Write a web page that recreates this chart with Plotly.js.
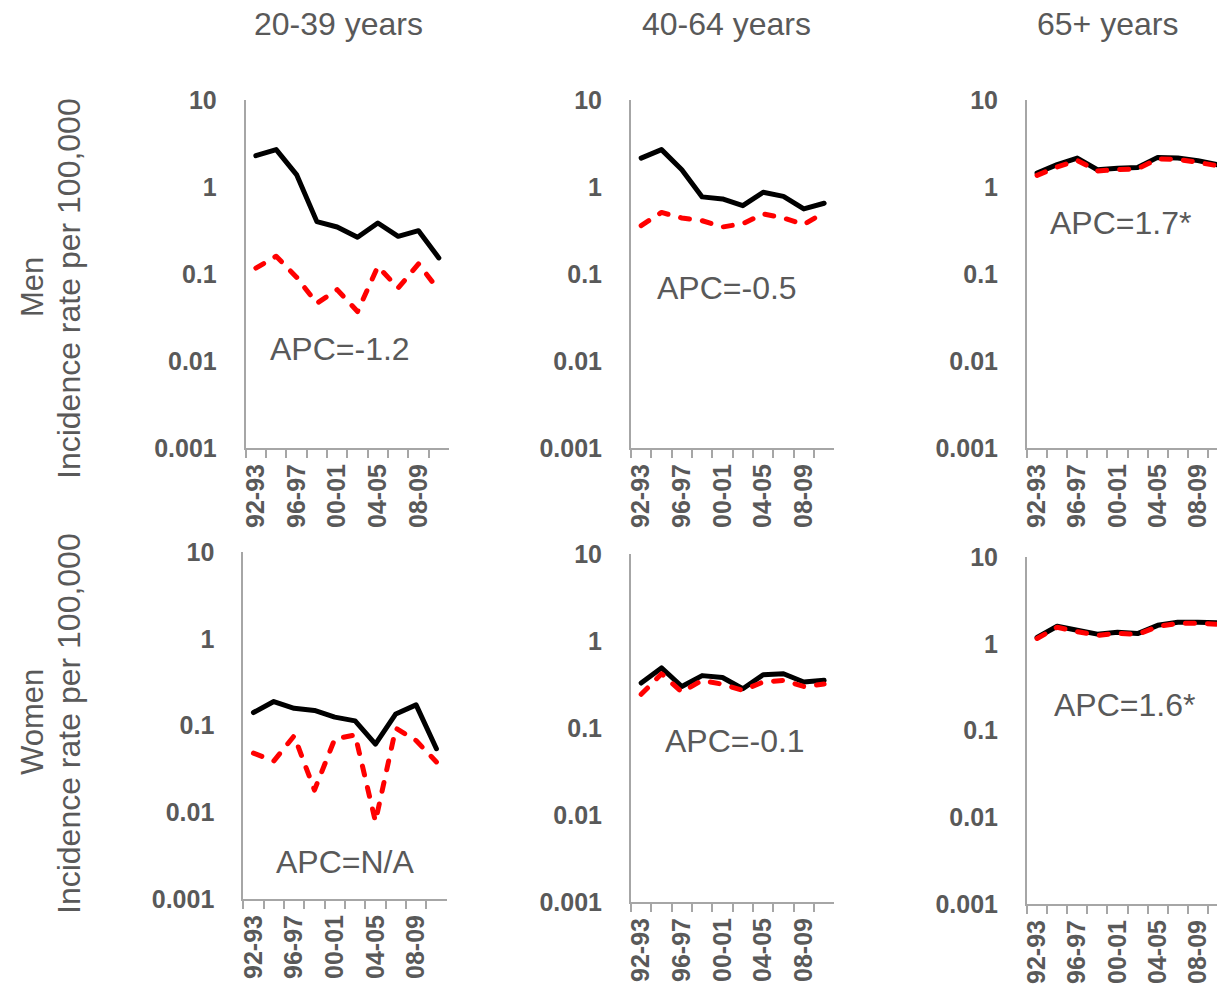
<!DOCTYPE html>
<html>
<head>
<meta charset="utf-8">
<script src="https://cdn.plot.ly/plotly-3.0.1.min.js"></script>
<style>
html,body{margin:0;padding:0;overflow:hidden;background:#fff;}
#chart{width:1217px;height:989px;}
#chart path.js-line{stroke-linecap:round;stroke-linejoin:round;}
</style>
</head>
<body>
<div id="chart"></div>
<script>
// ---- Data ----
const categories = ['92-93','94-95','96-97','98-99','00-01','02-03','04-05','06-07','08-09','10-11'];
const tickLabels = ['92-93','','96-97','','00-01','','04-05','','08-09',''];
const yTickVals = [0.001, 0.01, 0.1, 1, 10];
const yTickText = ['0.001', '0.01', '0.1', '1', '10'];

const ageGroups = ['20-39 years', '40-64 years', '65+ years'];
const sexes = ['Men', 'Women'];
const apcLabels = ['APC=-1.2', 'APC=-0.5', 'APC=1.7*', 'APC=N/A', 'APC=-0.1', 'APC=1.6*'];

const men20_39_solid   = [2.29, 2.69, 1.39, 0.40, 0.347, 0.264, 0.386, 0.271, 0.315, 0.153];
const men20_39_dashed  = [0.117, 0.160, 0.092, 0.046, 0.066, 0.037, 0.122, 0.069, 0.131, 0.065];
const men40_64_solid   = [2.15, 2.69, 1.58, 0.77, 0.73, 0.61, 0.87, 0.78, 0.56, 0.65];
const men40_64_dashed  = [0.36, 0.51, 0.44, 0.41, 0.347, 0.379, 0.49, 0.44, 0.37, 0.51];
const men65_solid      = [1.45, 1.81, 2.15, 1.58, 1.64, 1.68, 2.19, 2.15, 2.01, 1.80];
const men65_dashed     = [1.36, 1.70, 2.02, 1.53, 1.58, 1.62, 2.10, 2.08, 1.92, 1.75];
const women20_39_solid = [0.141, 0.189, 0.158, 0.149, 0.125, 0.113, 0.061, 0.136, 0.173, 0.054];
const women20_39_dashed= [0.048, 0.039, 0.076, 0.018, 0.070, 0.078, 0.0078, 0.093, 0.067, 0.038];
const women40_64_solid = [0.329, 0.49, 0.30, 0.40, 0.38, 0.283, 0.41, 0.42, 0.338, 0.353];
const women40_64_dashed= [0.244, 0.42, 0.259, 0.353, 0.318, 0.271, 0.338, 0.353, 0.30, 0.32];
const women65_solid    = [1.18, 1.59, 1.43, 1.29, 1.36, 1.31, 1.63, 1.77, 1.77, 1.75];
const women65_dashed   = [1.15, 1.55, 1.38, 1.25, 1.32, 1.28, 1.58, 1.72, 1.72, 1.68];

const solidSeries  = [men20_39_solid, men40_64_solid, men65_solid, women20_39_solid, women40_64_solid, women65_solid];
const dashedSeries = [men20_39_dashed, men40_64_dashed, men65_dashed, women20_39_dashed, women40_64_dashed, women65_dashed];

// ---- Layout geometry (pixels) ----
const W = 1217, H = 989;
const FONT = 'Liberation Sans, Arial, sans-serif';
const GREY = '#595959';
const AXIS = '#a6a6a6';
// panel boxes: [left, right, top, bottom, xRangeEnd]
const panels = [
  [245.7, 449.0, 100, 448, 9.5],
  [631.0, 834.3, 100, 448, 9.5],
  [1027.0, 1217, 100, 448, 8.95],
  [243.3, 446.6, 552, 899, 9.5],
  [631.0, 834.3, 554, 902, 9.5],
  [1027.0, 1217, 557, 904, 8.95]
];
const apcPos = [[340, 349], [727, 288], [1120, 223], [345, 862], [735, 741], [1124, 705]];

const px = v => v / W;
const py = v => 1 - v / H;

const traces = [];
const layout = {
  width: W, height: H,
  margin: {l: 0, r: 0, t: 0, b: 0},
  paper_bgcolor: '#fff', plot_bgcolor: '#fff',
  showlegend: false,
  font: {family: FONT, color: GREY},
  annotations: []
};

panels.forEach((p, i) => {
  const n = i + 1;
  const xa = n === 1 ? 'x' : 'x' + n;
  const ya = n === 1 ? 'y' : 'y' + n;
  traces.push({
    x: categories, y: solidSeries[i], xaxis: xa, yaxis: ya,
    type: 'scatter', mode: 'lines', name: 'solid',
    line: {color: '#000000', width: 5}
  });
  traces.push({
    x: categories, y: dashedSeries[i], xaxis: xa, yaxis: ya,
    type: 'scatter', mode: 'lines', name: 'dashed',
    line: {color: '#ff0000', width: 5, dash: '9px,13px'}
  });
  layout['xaxis' + (n === 1 ? '' : n)] = {
    domain: [px(p[0]), px(p[1])],
    anchor: ya,
    type: 'category',
    categoryorder: 'array', categoryarray: categories,
    range: [-0.5, p[4]],
    tickmode: 'array', tickvals: categories, ticktext: tickLabels,
    tickson: 'boundaries',
    ticks: 'outside', ticklen: 8, tickwidth: 2, tickcolor: AXIS,
    showline: true, linecolor: AXIS, linewidth: 2,
    showgrid: false, zeroline: false,
    tickangle: -90,
    ticklabelstandoff: 4,
    tickfont: {family: FONT, size: 25, color: GREY, weight: 'bold'},
    fixedrange: true
  };
  layout['yaxis' + (n === 1 ? '' : n)] = {
    domain: [py(p[3]), py(p[2])],
    anchor: xa,
    type: 'log',
    range: [-3, 1],
    tickmode: 'array', tickvals: yTickVals, ticktext: yTickText,
    ticks: '',
    ticklabelstandoff: 22,
    showline: true, linecolor: AXIS, linewidth: 2,
    showgrid: false, zeroline: false,
    tickfont: {family: FONT, size: 25, color: GREY, weight: 'bold'},
    fixedrange: true
  };
  layout.annotations.push({
    xref: 'paper', yref: 'paper', x: px(apcPos[i][0]), y: py(apcPos[i][1]),
    xanchor: 'center', yanchor: 'middle', showarrow: false,
    text: apcLabels[i], font: {family: FONT, size: 32, color: GREY}
  });
});

// Column titles
const titleX = [338, 726, 1107];
ageGroups.forEach((t, i) => {
  layout.annotations.push({
    xref: 'paper', yref: 'paper', x: px(titleX[i]), y: py(24),
    xanchor: 'center', yanchor: 'middle', showarrow: false,
    text: t, font: {family: FONT, size: 32, color: GREY}
  });
});

// Row titles
const rowY = [287, 722];
sexes.forEach((s, i) => {
  layout.annotations.push({
    xref: 'paper', yref: 'paper', x: px(32), y: py(rowY[i]),
    xanchor: 'center', yanchor: 'middle', showarrow: false, textangle: -90,
    text: s, font: {family: FONT, size: 31, color: GREY}
  });
  layout.annotations.push({
    xref: 'paper', yref: 'paper', x: px(69), y: py(rowY[i] + 2),
    xanchor: 'center', yanchor: 'middle', showarrow: false, textangle: -90,
    text: 'Incidence rate per 100,000', font: {family: FONT, size: 32, color: GREY}
  });
});

Plotly.newPlot('chart', traces, layout, {displayModeBar: false, staticPlot: true});
</script>
</body>
</html>
